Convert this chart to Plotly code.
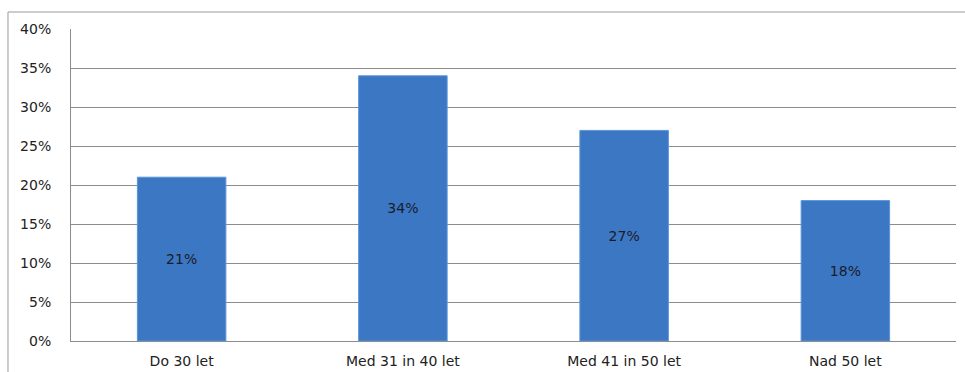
import plotly.graph_objects as go

# Age groups and the share of respondents in each
categories = ["Do 30 let", "Med 31 in 40 let", "Med 41 in 50 let", "Nad 50 let"]
shares = [21, 34, 27, 18]
tick_values = [0, 5, 10, 15, 20, 25, 30, 35, 40]
tick_labels = ["0%", "5%", "10%", "15%", "20%", "25%", "30%", "35%", "40%"]

font_family = "Verdana, DejaVu Sans, sans-serif"

fig = go.Figure()
fig.add_trace(go.Bar(
    x=categories,
    y=shares,
    width=0.40,
    marker=dict(color="#3b77c3", line=dict(color="#5c95db", width=1)),
    text=[f"{v}%" for v in shares],
    textposition="inside",
    insidetextanchor="middle",
    textfont=dict(family=font_family, size=14, color="#1b1b2a"),
    hoverinfo="skip",
))

fig.update_layout(
    width=965,
    height=372,
    margin=dict(l=71, r=9, t=29, b=31),
    paper_bgcolor="white",
    plot_bgcolor="white",
    showlegend=False,
    xaxis=dict(
        automargin=False,
        showline=True,
        linecolor="#8c8c8c",
        linewidth=1,
        ticks="",
        tickfont=dict(family=font_family, size=14, color="#222222"),
        ticklabelstandoff=7,
    ),
    yaxis=dict(
        automargin=False,
        range=[0, 40],
        tickvals=tick_values,
        ticktext=tick_labels,
        showgrid=True,
        gridcolor="#8c8c8c",
        gridwidth=1,
        showline=True,
        linecolor="#8c8c8c",
        linewidth=1,
        zeroline=False,
        ticks="",
        ticklabelstandoff=16,
        tickfont=dict(family=font_family, size=14, color="#222222"),
    ),
    shapes=[
        # outer frame of the chart
        dict(type="rect", xref="paper", yref="paper",
             x0=-0.0712, x1=1.03, y0=-0.2, y1=1.0545,
             line=dict(color="#9a9a9a", width=1), fillcolor="rgba(0,0,0,0)",
             layer="below"),
    ],
)

fig.write_html("out.html")
